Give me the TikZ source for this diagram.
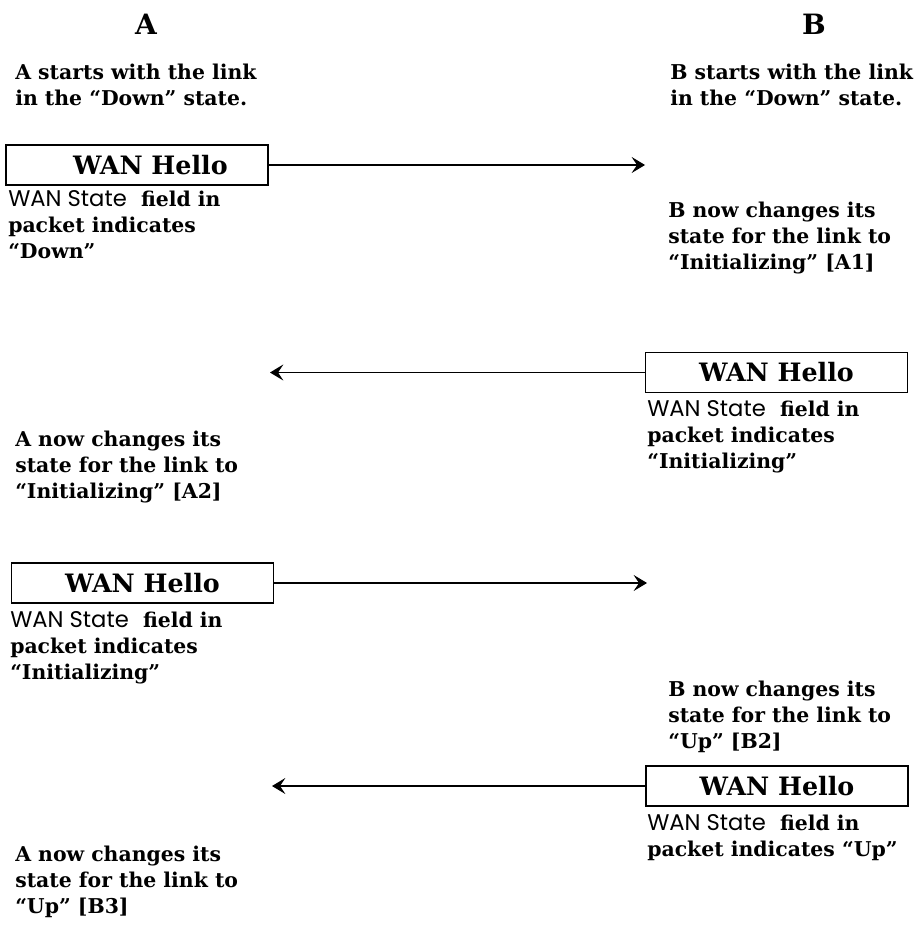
\documentclass[tikz,border=0pt]{standalone}
\usepackage{fontspec}
\setmainfont{DejaVu Serif}
\newfontfamily\gsans{Poppins}
\usetikzlibrary{arrows.meta}
\newcommand{\wst}{{\gsans\mdseries\fontsize{17}{19.5}\selectfont WAN State}}
\begin{document}
\begin{tikzpicture}[x=0.75pt,y=-0.75pt,
  lbl/.style={anchor=north west, inner sep=0pt, align=left,
    font=\bfseries\fontsize{15.3}{19.5}\selectfont},
  hdr/.style={inner sep=0pt, font=\bfseries\fontsize{21}{24}\selectfont},
  pkt/.style={draw, line width=1.1pt, minimum width=196.5pt, minimum height=30pt,
    inner sep=0pt, font=\bfseries\fontsize{19}{20}\selectfont},
  msg/.style={line width=0.9pt, -{Stealth[length=10pt,width=12pt,inset=4pt]}}
]
\useasboundingbox (0,0) rectangle (920,938);

\node[hdr] (ha) at (146,24) {A};
\node[hdr] (hb) at (814,24) {B};

\node[lbl] (as) at (15,64) {A starts with the link\\in the “Down” state.};
\node[lbl] (bs) at (670,64) {B starts with the link\\in the “Down” state.};

\node[pkt] (p1) at (137,165) {\hspace*{20pt}WAN Hello};
\coordinate (t1) at (645,165);
\draw[msg] (p1.east) -- (t1);
\node[lbl] (f1) at (8,190) {\wst\ \ field in\\packet indicates\\“Down”};
\node[lbl] (b1) at (668,202) {B now changes its\\state for the link to\\“Initializing” [A1]};

\node[pkt] (p2) at (776.5,372.5) {WAN Hello};
\coordinate (t2) at (270,372.5);
\draw[msg] (p2.west) -- (t2);
\node[lbl] (f2) at (647,400) {\wst\ \ field in\\packet indicates\\“Initializing”};
\node[lbl] (a2) at (15,431) {A now changes its\\state for the link to\\“Initializing” [A2]};

\node[pkt] (p3) at (142.5,583) {WAN Hello};
\coordinate (t3) at (647,583);
\draw[msg] (p3.east) -- (t3);
\node[lbl] (f3) at (10,611) {\wst\ \ field in\\packet indicates\\“Initializing”};
\node[lbl] (b2) at (668,681) {B now changes its\\state for the link to\\“Up” [B2]};

\node[pkt] (p4) at (777,786) {WAN Hello};
\coordinate (t4) at (272,786);
\draw[msg] (p4.west) -- (t4);
\node[lbl] (f4) at (647,814) {\wst\ \ field in\\packet indicates “Up”};
\node[lbl] (a3) at (15,846) {A now changes its\\state for the link to\\“Up” [B3]};
\end{tikzpicture}
\end{document}
